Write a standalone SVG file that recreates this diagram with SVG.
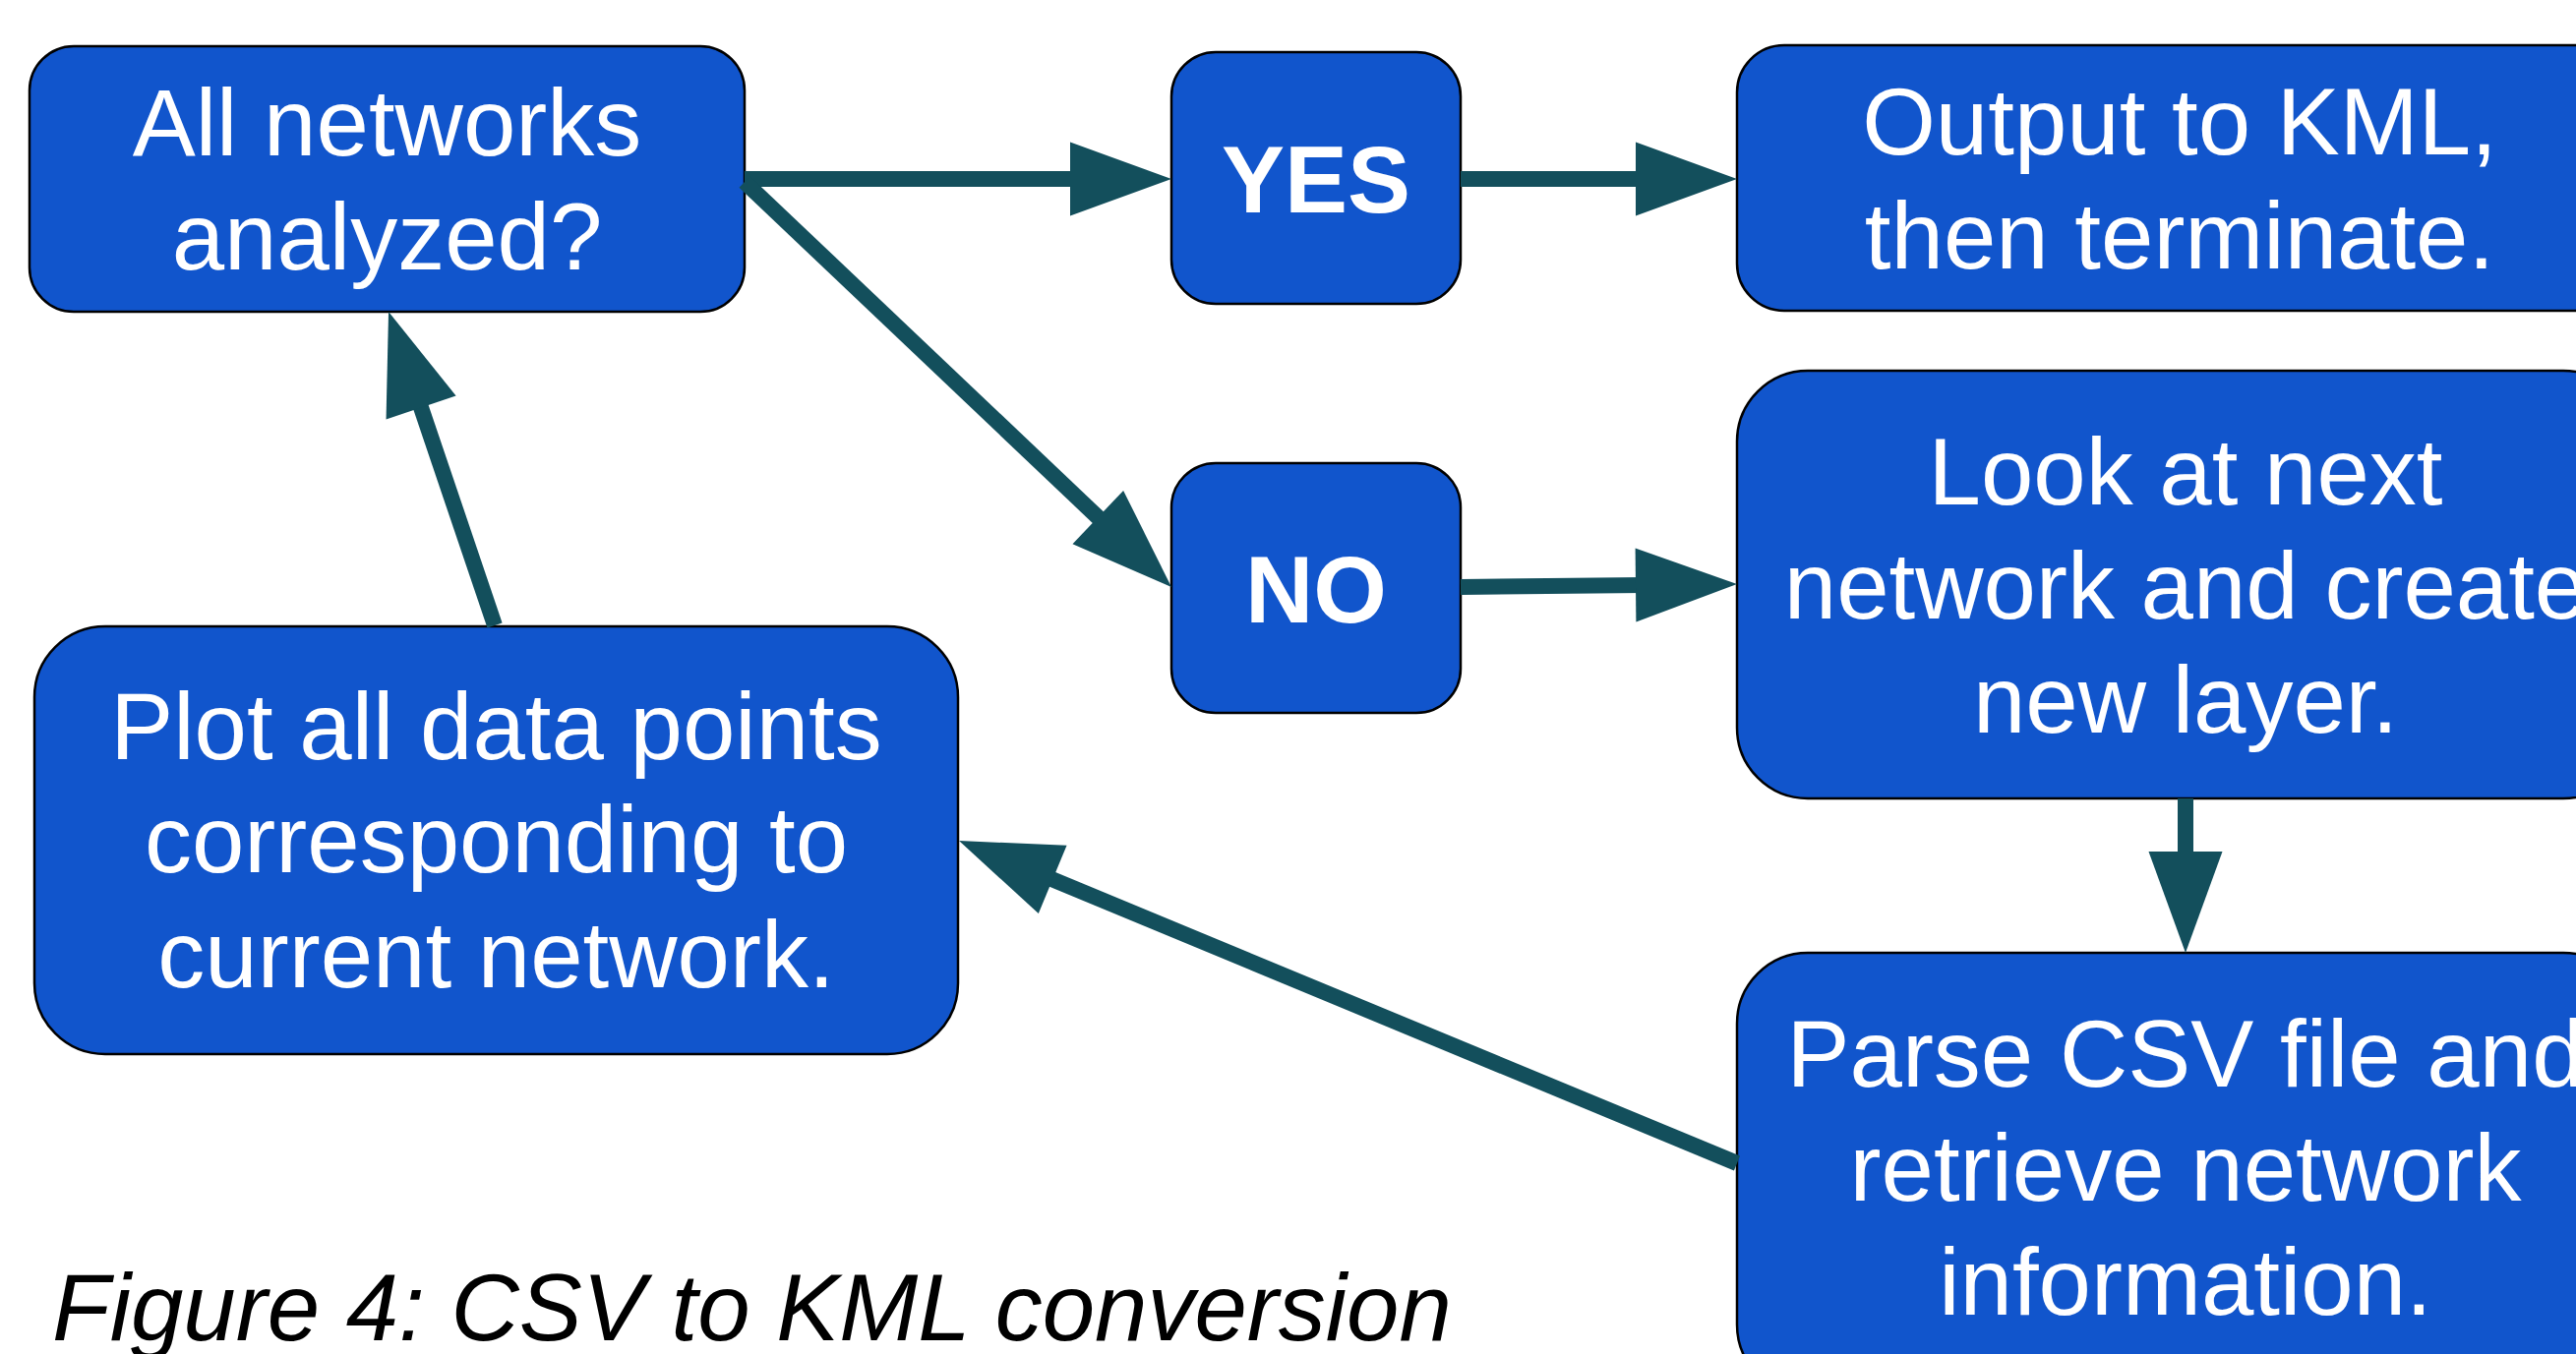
<svg xmlns="http://www.w3.org/2000/svg" width="2619" height="1377" viewBox="0 0 2619 1377">
<defs>
<style>
.box{fill:#1155cc;stroke:#000;stroke-width:2.5}
.lbl{font-family:"Liberation Sans",Arial,sans-serif;font-size:96px;fill:#fff;text-anchor:middle}
.bold{font-weight:bold}
.conn{stroke:#134f5c;stroke-width:16;fill:none;marker-end:url(#head)}
.cap{font-family:"Liberation Sans",Arial,sans-serif;font-size:96px;font-style:italic;fill:#000}
</style>
<marker id="head" markerUnits="userSpaceOnUse" markerWidth="103" markerHeight="75" refX="8" refY="37.5" orient="auto" overflow="visible">
<path d="M0,0 L103,37.5 L0,75 Z" fill="#134f5c"/>
</marker>
</defs>
<rect width="2619" height="1377" fill="#fff"/>
<g id="node-all">
<rect class="box" x="30" y="47" width="727" height="270" rx="45" ry="45"/>
<text class="lbl" x="393.5" y="158">All networks</text>
<text class="lbl" x="393.5" y="274">analyzed?</text>
</g>
<g id="node-yes">
<rect class="box" x="1191" y="53" width="294" height="256" rx="45" ry="45"/>
<text class="lbl bold" x="1338" y="216">YES</text>
</g>
<g id="node-no">
<rect class="box" x="1191" y="471" width="294" height="254" rx="45" ry="45"/>
<text class="lbl bold" x="1338" y="633">NO</text>
</g>
<g id="node-output">
<rect class="box" x="1766" y="46" width="905" height="270" rx="48" ry="48"/>
<text class="lbl" x="2216" y="157">Output to KML,</text>
<text class="lbl" x="2216" y="273">then terminate.</text>
</g>
<g id="node-look">
<rect class="box" x="1766" y="377" width="912" height="435" rx="72" ry="72"/>
<text class="lbl" x="2222" y="513">Look at next</text>
<text class="lbl" x="2222" y="629">network and create</text>
<text class="lbl" x="2222" y="745">new layer.</text>
</g>
<g id="node-parse">
<rect class="box" x="1766" y="969" width="912" height="450" rx="72" ry="72"/>
<text class="lbl" x="2222" y="1105">Parse CSV file and</text>
<text class="lbl" x="2222" y="1221">retrieve network</text>
<text class="lbl" x="2222" y="1337">information.</text>
</g>
<g id="node-plot">
<rect class="box" x="35" y="637" width="939" height="435" rx="72" ry="72"/>
<text class="lbl" x="504.5" y="772">Plot all data points</text>
<text class="lbl" x="504.5" y="887">corresponding to</text>
<text class="lbl" x="504.5" y="1004">current network.</text>
</g>
<g id="connectors">
<line class="conn" x1="757" y1="182" x2="1096" y2="182"/>
<line class="conn" x1="1485" y1="182" x2="1671" y2="182"/>
<line class="conn" x1="757" y1="185" x2="1122.1" y2="531.6"/>
<line class="conn" x1="1485" y1="597" x2="1671" y2="595"/>
<line class="conn" x1="2222" y1="812" x2="2222" y2="874"/>
<line class="conn" x1="1766" y1="1183" x2="1062.8" y2="891.4"/>
<line class="conn" x1="503" y1="636" x2="425.5" y2="407"/>
</g>
<text class="cap" x="53" y="1363">Figure 4: CSV to KML conversion</text>
</svg>
